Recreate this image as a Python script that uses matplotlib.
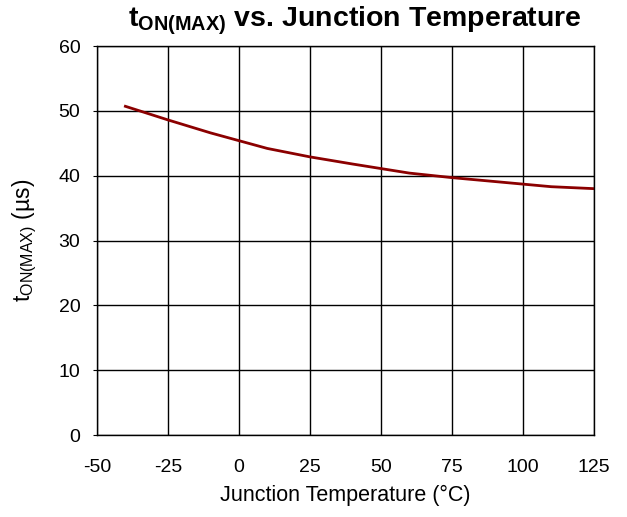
import numpy as np
import matplotlib
matplotlib.use("Agg")
import matplotlib.pyplot as plt

plt.rcParams['font.family'] = ['Liberation Sans', 'DejaVu Sans']
plt.rcParams['mathtext.fontset'] = 'custom'
plt.rcParams['mathtext.rm'] = 'Liberation Sans'
plt.rcParams['mathtext.bf'] = 'Liberation Sans:bold'
plt.rcParams['axes.unicode_minus'] = False

# data
temp = [-40, -25, -10, 0, 10, 25, 40, 50, 60, 75, 90, 100, 110, 125]
t_on = [50.7, 48.6, 46.6, 45.4, 44.2, 42.9, 41.8, 41.1, 40.4, 39.7, 39.1, 38.7, 38.3, 38.0]

x_ticks = [-50, -25, 0, 25, 50, 75, 100, 125]
y_ticks = [0, 10, 20, 30, 40, 50, 60]

fig = plt.figure(figsize=(6.27, 5.17), dpi=100)
ax = fig.add_axes([0.1547, 0.1586, 0.7923, 0.7524])

ax.plot(temp, t_on, color='#8B0000', linewidth=2)

ax.set_xlim(-50, 125)
ax.set_ylim(0, 60)
ax.set_xticks(x_ticks)
ax.set_yticks(y_ticks)
ax.grid(True, color='black', linewidth=1)
ax.set_axisbelow(True)
for s in ax.spines.values():
    s.set_color('black')
    s.set_linewidth(1)
ax.tick_params(axis='x', length=0, labelsize=14, pad=17)
ax.tick_params(axis='y', length=3, labelsize=14, pad=9)

ax.set_xlabel('Junction Temperature (°C)', fontsize=15.5, labelpad=7)
ax.set_ylabel(r'$\mathregular{t_{ON(MAX)}}$ (µs)', fontsize=16.5, labelpad=14)
ax.set_title(r'$\mathbf{t_{ON(MAX)}}$ vs. Junction Temperature', fontsize=20.5,
             fontweight='bold', pad=14, x=0.52)

fig.savefig('out.png', dpi=100)
